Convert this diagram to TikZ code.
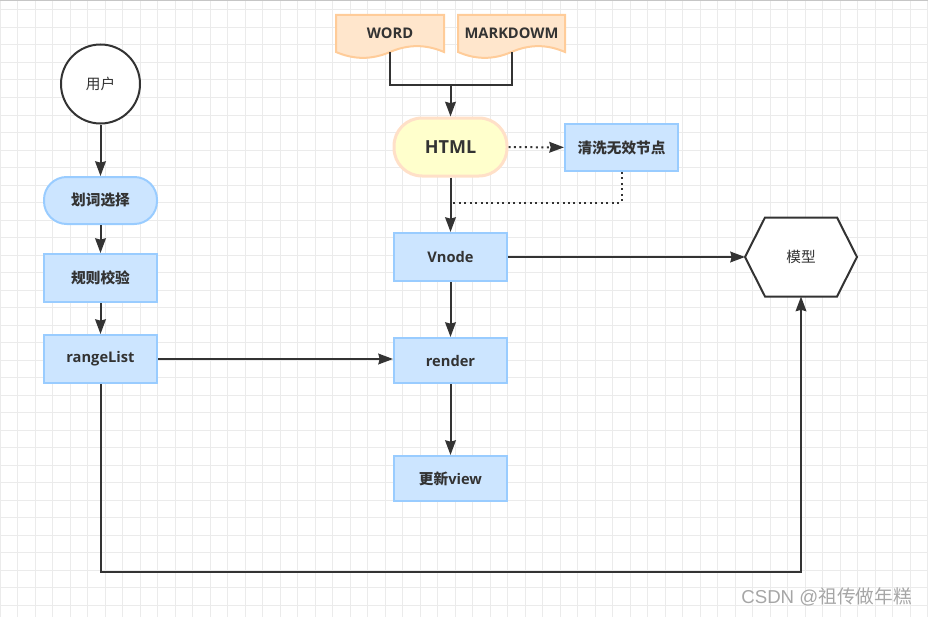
\documentclass[tikz,border=0pt]{standalone}
\usepackage{fontspec}
\setmainfont{Open Sans}
\newfontfamily\cjk{Noto Sans CJK SC}
\usepackage{xcolor}
\usetikzlibrary{arrows.meta,backgrounds}
\definecolor{ink}{HTML}{333333}
\definecolor{boxfill}{HTML}{CCE5FF}
\definecolor{boxline}{HTML}{99CCFF}
\definecolor{docfill}{HTML}{FFE6CC}
\definecolor{docline}{HTML}{FFCC99}
\definecolor{htmlfill}{HTML}{FFFFCC}
\definecolor{htmlline}{HTML}{FFE0C8}
\definecolor{gridcol}{HTML}{EBEBEB}

\begin{document}
\begin{tikzpicture}[x=0.75pt, y=-0.75pt, text=ink,
    box/.style={draw=boxline, fill=boxfill, line width=1.5pt, minimum width=84.75pt, minimum height=36pt,
        inner sep=0pt, font=\fontsize{11}{13}\selectfont\bfseries},
    doc/.style={minimum width=81pt, minimum height=27.75pt, outer sep=0pt, font=\fontsize{11}{13}\selectfont\bfseries},
    link/.style={draw=ink, line width=1.5pt, -{Stealth[length=11pt, width=8pt, inset=1pt]}},
    dots/.style={draw=ink, line width=1.5pt, dash pattern=on 1.5pt off 2.6pt}]
    \useasboundingbox (0,0) rectangle (928,617);

    \node[shape=circle, draw=ink, fill=white, line width=1.5pt, minimum size=59.25pt, inner sep=0pt,
        font=\fontsize{11}{13}\selectfont\cjk] (user) at (100.5, 84) {用户};
    \node[box, rounded corners=17pt, minimum height=35.25pt] (select) at (100.5, 200.5) {\cjk 划词选择};
    \node[box] (rules) at (100.5, 278) {\cjk 规则校验};
    \node[box] (range) at (100.5, 359) {rangeList};

    \node[doc] (word) at (390, 33.5) {WORD};
    \node[doc, minimum width=80.25pt] (md) at (511.5, 33.5) {MARKDOWM};
    \node[box, draw=htmlline, fill=htmlfill, line width=2.25pt, rounded corners=21pt, minimum height=43.5pt,
        font=\fontsize{13.5}{16}\selectfont\bfseries] (html) at (450.5, 147) {HTML};
    \node[box, minimum height=35.25pt] (clean) at (621.5, 147.5) {\cjk 清洗无效节点};
    \node[box] (vnode) at (450.5, 257) {Vnode};
    \node[box, minimum height=33.75pt] (render) at (450.5, 360.5) {render};
    \node[box, minimum height=33.75pt] (update) at (450.5, 478.5) {{\cjk 更新}view};
    \node[minimum width=84pt, minimum height=59.25pt, outer sep=0pt,
        font=\fontsize{11}{13}\selectfont\cjk] (model) at (801, 257) {模型};

    \node[font=\fontsize{14}{16}\selectfont, text=gray!70, inner sep=0pt] (mark) at (826.5, 597)
        {\fontspec{Liberation Sans}CSDN @{\cjk 祖传做年糕}};

    \coordinate (join) at (450.5, 85);
    \coordinate (merge) at (450.5, 202.5);
    \coordinate (low) at (100.5, 571.5);

    \draw [link] (user) -- (select);
    \draw [link] (select) -- (rules);
    \draw [link] (rules) -- (range);
    \draw [link] (range) -- (range -| render.west);
    \draw [draw=ink, line width=1.5pt] (word.south) |- (join) -| (md.south);
    \draw [link] (join) -- (html);
    \draw [link, dots] (html) -- (clean);
    \draw [dots] (clean.south) |- (merge);
    \draw [link] (html) -- (vnode);
    \draw [link] (vnode) -- (model);
    \draw [link] (vnode) -- (render);
    \draw [link] (render) -- (update);
    \draw [link] (range.south) -- (low) -| (model.south);

    \begin{scope}[on background layer]
        \foreach \gx in {0,17.5,...,928}
            \draw [gridcol, line width=0.75pt] (\gx, 0) -- (\gx, 617);
        \foreach \gy in {10,27.5,...,617}
            \draw [gridcol, line width=0.75pt] (0, \gy) -- (928, \gy);
        \draw [gray!45, line width=1pt] (0, 0.5) -- (928, 0.5);
        \foreach \d in {word, md}
            \filldraw [draw=docline, fill=docfill, line width=1.5pt]
                (\d.south east) .. controls +(-18,-7.8) and +(18,-7.8) .. (\d.south)
                .. controls +(-18,7.8) and +(18,7.8) .. (\d.south west)
                -- (\d.north west) -- (\d.north east) -- cycle;
        \filldraw [draw=ink, fill=white, line width=1.5pt]
            (model.west) -- ([xshift=15pt]model.north west) -- ([xshift=-15pt]model.north east)
            -- (model.east) -- ([xshift=-15pt]model.south east) -- ([xshift=15pt]model.south west) -- cycle;
    \end{scope}
\end{tikzpicture}
\end{document}
